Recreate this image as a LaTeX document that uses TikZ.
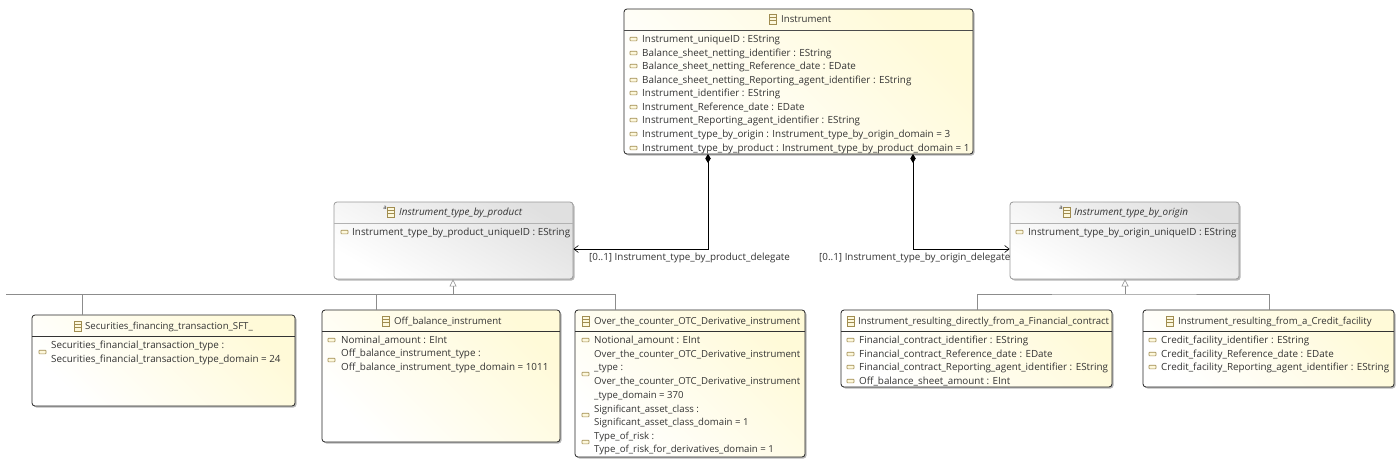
\documentclass[tikz,border=0pt]{standalone}
\usepackage{fontspec}
\setmainfont{Open Sans}
\usetikzlibrary{arrows.meta,shadings}
\definecolor{ecltxt}{HTML}{333333}
\definecolor{eclicon}{HTML}{A08C50}
\definecolor{eclfill}{HTML}{FFFAD8}
\definecolor{eclicf}{HTML}{FDF8DC}
\tikzset{
  txt/.style={inner sep=0pt,anchor=west,text=ecltxt,font=\fontsize{9.85}{11}\selectfont,yshift=-.6pt},
  txts/.style={txt,font=\fontsize{9.62}{11}\selectfont},
  ttl/.style={txt,font=\fontsize{9.62}{11}\selectfont},
  ttli/.style={txt,font=\fontsize{9.9}{11}\selectfont\itshape},
  conc/.style={draw=black!85,line width=.8pt,rounded corners=3pt,left color=white,right color=eclfill,shading angle=135},
  abst/.style={draw=black!40,line width=.8pt,rounded corners=3pt,left color=white,right color=black!12,shading angle=150},
  shad/.style={fill=black!28,rounded corners=3pt,draw=none},
  comp/.style={draw=black,line width=.9pt,{Diamond[length=9pt,width=5.5pt,fill=black]}-{Straight Barb[length=4.5pt,width=7pt,line width=.6pt]},rounded corners=0pt},
  gen/.style={draw=black!45,line width=.7pt,-{Triangle[open,fill=white,length=7pt,width=7pt,line width=.6pt]}},
  genl/.style={draw=black!45,line width=.7pt},
}
\newcommand{\attr}[3]{% x, y, text
  \draw[eclicon,fill=eclicf,line width=.6pt,rounded corners=.6pt] (#1,#2-1.8) rectangle (#1+7,#2+1.8);}
\newcommand{\cicon}[2]{% x, y centre
  \draw[eclicon,fill=eclicf,line width=.6pt] (#1,#2-5) rectangle (#1+7,#2+5);
  \draw[eclicon,line width=.5pt] (#1,#2-1.7)--(#1+7,#2-1.7) (#1,#2+1.7)--(#1+7,#2+1.7);}
\newcommand{\aicon}[2]{\cicon{#1}{#2}\node[inner sep=0pt,font=\fontsize{6}{6}\selectfont,text=ecltxt] at (#1-2,#2-4.5) {a};}
\newcommand{\umlbox}[7]{% name,style,x1,y1,x2,y2,headery
  \fill[shad] (#3+1.5,#4+1.5) rectangle (#5+1.5,#6+1.5);
  \node[#2,inner sep=0pt,minimum width=#5pt-#3pt,minimum height=#6pt-#4pt] (#1) at ({(#3+#5)/2},{(#4+#6)/2}) {};
  \draw[#7] (#3,#4+21) -- (#5,#4+21);}
\begin{document}
\begin{tikzpicture}[x=1pt,y=-1pt]
\useasboundingbox[fill=white] (0,0) rectangle (1400,466);
% boxes
\umlbox{inst}{conc}{624}{9}{973}{154}{black!70}
\umlbox{prod}{abst}{334}{202}{573}{279}{black!30}
\umlbox{orig}{abst}{1010}{202}{1239}{279}{black!30}
\umlbox{sft}{conc}{32}{315}{295}{406}{black!80}
\umlbox{off}{conc}{322}{310}{560}{442}{black!80}
\umlbox{otc}{conc}{575}{310}{805}{457}{black!80}
\umlbox{fin}{conc}{841}{310}{1112}{387}{black!80}
\umlbox{cre}{conc}{1143}{310}{1394}{387}{black!80}
% junctions
\coordinate (j1) at (453,294);
\coordinate (j1l) at (6,294);
\coordinate (j2) at (1125,294);
\coordinate (cp) at (708,249);
\coordinate (co) at (913,249);
% labels
\node[txt] (l1) at (589,257) {[0..1] Instrument\_type\_by\_product\_delegate};
\node[txt] (l2) at (819,257) {[0..1] Instrument\_type\_by\_origin\_delegate};
% composition connectors
\draw[comp] (708,154) -- (cp) -- (prod.east |- cp);
\draw[comp] (913,154) -- (co) -- (orig.west |- co);
% generalisation
\draw[genl] (j1l) -- (j1);
\draw[genl] (82,294) -- (sft.north -| 82,0);
\draw[genl] (376,294) -- (off.north -| 376,0);
\draw[genl] (j1) -- (615,294) -- (otc.north -| 615,0);
\draw[gen] (j1) -- (prod.south -| j1);
\draw[genl] (977,294) -- (fin.north -| 977,0);
\draw[genl] (977,294) -- (j2) -- (1269,294) -- (cre.north -| 1269,0);
\draw[gen] (j2) -- (orig.south -| j2);
% Instrument
\cicon{769}{19}\node[ttl] (t1) at (781,19) {Instrument};
\foreach \n/\y/\t in {a1/39/{Instrument\_uniqueID : EString},a2/53/{Balance\_sheet\_netting\_identifier : EString},a3/66/{Balance\_sheet\_netting\_Reference\_date : EDate},a4/80/{Balance\_sheet\_netting\_Reporting\_agent\_identifier : EString},a5/93/{Instrument\_identifier : EString},a6/107/{Instrument\_Reference\_date : EDate},a7/120/{Instrument\_Reporting\_agent\_identifier : EString},a8/134/{Instrument\_type\_by\_origin : Instrument\_type\_by\_origin\_domain = 3},a9/148/{Instrument\_type\_by\_product : Instrument\_type\_by\_product\_domain = 1}}{
  \attr{630}{\y}{}\node[txt] (\n) at (642,\y) {\t};}
% abstract
\aicon{387}{212}\node[ttli] (t2) at (399,212) {Instrument\_type\_by\_product};
\attr{341}{232}{}\node[txt] (b1) at (352,232) {Instrument\_type\_by\_product\_uniqueID : EString};
\aicon{1063}{212}\node[ttli] (t3) at (1074,212) {Instrument\_type\_by\_origin};
\attr{1016}{232}{}\node[txt] (c1) at (1028,232) {Instrument\_type\_by\_origin\_uniqueID : EString};
% SFT
\cicon{74}{326}\node[ttl] (t4) at (85,326) {Securities\_financing\_transaction\_SFT\_};
\attr{39}{352}{}\node[txt] (d1) at (51,345) {Securities\_financial\_transaction\_type :};
\node[txt] (d2) at (51,359) {Securities\_financial\_transaction\_type\_domain = 24};
% Off
\cicon{382}{321}\node[ttl] (t5) at (394,321) {Off\_balance\_instrument};
\attr{328}{340}{}\node[txt] (e1) at (341,340) {Nominal\_amount : EInt};
\attr{328}{360}{}\node[txt] (e2) at (341,353) {Off\_balance\_instrument\_type :};
\node[txt] (e3) at (341,367) {Off\_balance\_instrument\_type\_domain = 1011};
% OTC
\cicon{582}{321}\node[ttl] (t6) at (594,321) {Over\_the\_counter\_OTC\_Derivative\_instrument};
\attr{582}{340}{}\node[txt] (f1) at (594,340) {Notional\_amount : EInt};
\attr{582}{374}{}
\foreach \n/\y/\t in {f2/354/{Over\_the\_counter\_OTC\_Derivative\_instrument},f3/368/{\_type :},f4/381/{Over\_the\_counter\_OTC\_Derivative\_instrument},f5/395/{\_type\_domain = 370},f6/409/{Significant\_asset\_class :},f7/422/{Significant\_asset\_class\_domain = 1},f8/436/{Type\_of\_risk :},f9/449/{Type\_of\_risk\_for\_derivatives\_domain = 1}}{
  \node[txts] (\n) at (594,\y) {\t};}
\attr{582}{415}{}\attr{582}{442}{}
% Financial
\cicon{847}{321}\node[ttl] (t7) at (858,321) {Instrument\_resulting\_directly\_from\_a\_Financial\_contract};
\foreach \n/\y/\t in {g1/340/{Financial\_contract\_identifier : EString},g2/354/{Financial\_contract\_Reference\_date : EDate},g3/367/{Financial\_contract\_Reporting\_agent\_identifier : EString},g4/381/{Off\_balance\_sheet\_amount : EInt}}{
  \attr{847}{\y}{}\node[txt] (\n) at (859,\y) {\t};}
% Credit
\cicon{1166}{321}\node[ttl] (t8) at (1178,321) {Instrument\_resulting\_from\_a\_Credit\_facility};
\foreach \n/\y/\t in {h1/340/{Credit\_facility\_identifier : EString},h2/354/{Credit\_facility\_Reference\_date : EDate},h3/367/{Credit\_facility\_Reporting\_agent\_identifier : EString}}{
  \attr{1149}{\y}{}\node[txt] (\n) at (1161,\y) {\t};}
\end{tikzpicture}
\end{document}
